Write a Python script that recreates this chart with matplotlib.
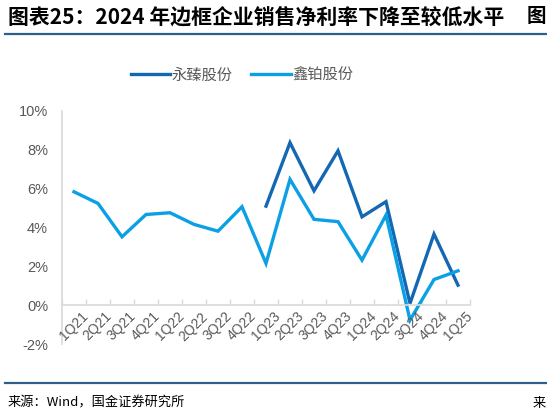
import matplotlib.pyplot as plt
import numpy as np

plt.rcParams['font.family'] = ['Liberation Sans', 'Noto Sans CJK SC', 'DejaVu Sans']

quarters = ['1Q21', '2Q21', '3Q21', '4Q21', '1Q22', '2Q22', '3Q22', '4Q22',
            '1Q23', '2Q23', '3Q23', '4Q23', '1Q24', '2Q24', '3Q24', '4Q24', '1Q25']
# 永臻股份 only reported from 1Q23
yongzhen = [np.nan] * 8 + [5.10, 8.37, 5.89, 7.95, 4.55, 5.33, 0.09, 3.66, 1.03]
xinbo = [5.84, 5.24, 3.52, 4.67, 4.76, 4.16, 3.81, 5.07,
         2.15, 6.48, 4.42, 4.30, 2.32, 4.64, -0.77, 1.32, 1.77]
names = ['永臻股份', '鑫铂股份']
title = '图表25：2024 年边框企业销售净利率下降至较低水平'
source = '来源：Wind，国金证券研究所'

dark = '#1468b3'
light = '#0ba0e6'
gray = '#595959'
rule = '#2f5f8a'

fig = plt.figure(figsize=(5.47, 4.16), dpi=100)
ax = fig.add_axes([62/547, 1-344/416, (470-62)/547, (344-111)/416])

x = np.arange(len(quarters))
ax.plot(x, yongzhen, color=dark, lw=2.4, label=names[0], solid_joinstyle='miter')
ax.plot(x, xinbo, color=light, lw=2.4, label=names[1], solid_joinstyle='miter')

ax.set_xlim(-0.5, len(quarters) - 0.5)
ax.set_ylim(-2, 10)
ax.set_yticks(np.arange(-2, 11, 2))
ax.set_yticklabels([f'{v}%' for v in range(-2, 11, 2)], color=gray, fontsize=10.5)
ax.tick_params(axis='y', length=0, pad=10)

# category axis sits on the 0% line, ticks between categories
ax.spines['bottom'].set_position(('data', 0))
ax.spines['bottom'].set_color('#d9d9d9')
ax.spines['bottom'].set_linewidth(1.2)
ax.spines['left'].set_color('#d9d9d9')
ax.spines['left'].set_linewidth(1.2)
ax.spines['top'].set_visible(False)
ax.spines['right'].set_visible(False)
ax.set_xticks(np.arange(-0.5, len(quarters)))
ax.set_xticklabels([])
ax.tick_params(axis='x', direction='in', length=4, color='#d9d9d9', width=1)
for i, q in enumerate(quarters):
    ax.annotate(q, (i, 0), xytext=(5, -3), textcoords='offset points',
                rotation=45, ha='right', va='top', rotation_mode='anchor',
                fontsize=10, color=gray)

leg = fig.legend(loc='center', bbox_to_anchor=(242/547, 1-75/416), ncol=2,
                 frameon=False, handlelength=2.6, columnspacing=1.2,
                 handletextpad=0.1, prop={'family': ['Noto Sans CJK SC'], 'size': 11})
for t in leg.get_texts():
    t.set_color(gray)

fig.text(8/547, 1-17/416, title, fontsize=15, fontweight='bold', va='center',
         family=['Noto Sans CJK SC'])
fig.text(527/547, 1-17/416, '图', fontsize=14, fontweight='bold', va='center',
         family=['Noto Sans CJK SC'])
fig.add_artist(plt.Line2D([5/547, 1], [1-34/416, 1-34/416], color=rule, lw=1.6))
fig.add_artist(plt.Line2D([5/547, 1], [1-383/416, 1-383/416], color=rule, lw=1.6))
fig.text(8/547, 1-403/416, source, fontsize=9.5, va='center',
         family=['Noto Sans CJK SC'])
fig.text(533/547, 1-403/416, '来', fontsize=9.5, va='center',
         family=['Noto Sans CJK SC'])

fig.savefig('out.png', dpi=100)
